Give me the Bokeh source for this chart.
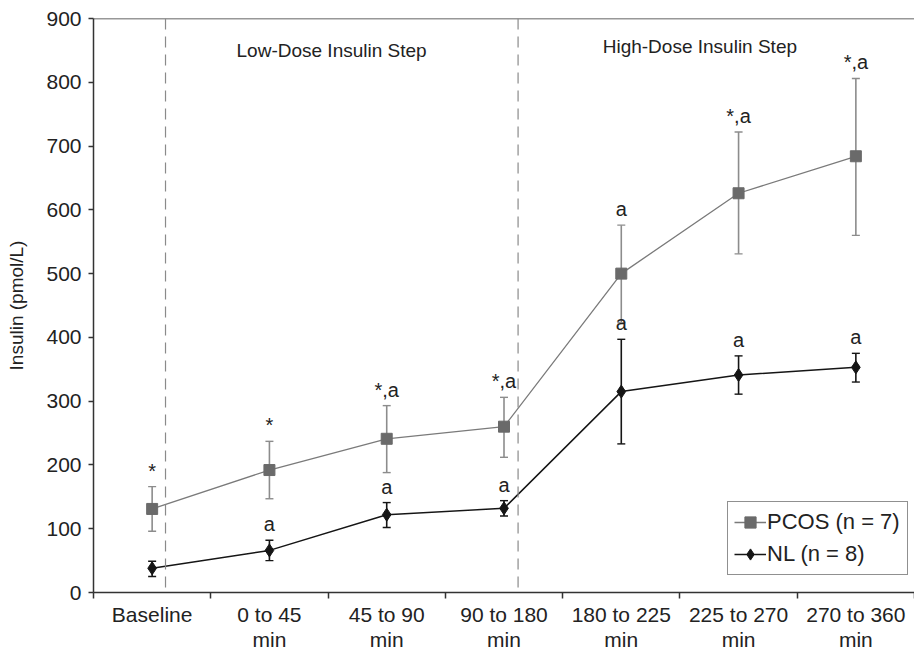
from bokeh.plotting import figure
from bokeh.models import (ColumnDataSource, Range1d, FixedTicker, Span, Label,
                          Whisker, TeeHead, Legend, LegendItem)
from bokeh.embed import file_html
from bokeh.resources import INLINE
from bokeh.core.properties import value

# ---------------- data ----------------
categories = ["Baseline", "0 to 45\nmin", "45 to 90\nmin", "90 to 180\nmin",
              "180 to 225\nmin", "225 to 270\nmin", "270 to 360\nmin"]
pcos_mean = [131, 192, 241, 260, 500, 626, 684]
pcos_low = [96, 147, 188, 212, 423, 531, 560]
pcos_high = [166, 237, 293, 306, 576, 722, 806]
pcos_sig = ["*", "*", "*,a", "*,a", "a", "*,a", "*,a"]

nl_mean = [38, 66, 122, 132, 315, 341, 353]
nl_low = [25, 50, 102, 120, 233, 311, 330]
nl_high = [49, 82, 141, 144, 397, 371, 375]
nl_sig = ["", "a", "a", "a", "a", "a", "a"]

y_ticks = [0, 100, 200, 300, 400, 500, 600, 700, 800, 900]

FONT = "Liberation Sans"
PCOS_LINE = "#7a7a7a"
PCOS_FILL = "#6a6a6a"
PCOS_ERR = "#8c8c8c"
NL_COL = "#151515"

xc = [i + 0.5 for i in range(len(categories))]
bounds = list(range(len(categories) + 1))

pcos = ColumnDataSource(dict(x=xc, y=pcos_mean, lo=pcos_low, hi=pcos_high, t=pcos_sig))
nl = ColumnDataSource(dict(x=xc, y=nl_mean, lo=nl_low, hi=nl_high, t=nl_sig))

p = figure(width=914, height=654, output_backend="svg", toolbar_location=None,
           x_range=Range1d(0, len(categories)), y_range=Range1d(0, 900),
           min_border_left=93, min_border_right=0, min_border_top=18, min_border_bottom=62)
p.outline_line_color = None
p.grid.visible = False
p.background_fill_color = "white"
p.border_fill_color = "white"

# axes
p.yaxis.ticker = FixedTicker(ticks=y_ticks)
p.yaxis.axis_label = "Insulin (pmol/L)"
p.yaxis.axis_label_text_font = FONT
p.yaxis.axis_label_text_font_style = "normal"
p.yaxis.axis_label_text_font_size = "19px"
p.yaxis.axis_label_text_color = "#222222"
p.yaxis.axis_label_standoff = 16
p.yaxis.major_tick_in = 0
p.yaxis.major_tick_out = 5
p.yaxis.major_label_standoff = 7

p.xaxis.ticker = FixedTicker(ticks=xc, minor_ticks=bounds)
p.xaxis.major_label_overrides = {x: c for x, c in zip(xc, categories)}
p.xaxis.major_tick_in = 0
p.xaxis.major_tick_out = 0
p.xaxis.minor_tick_in = 0
p.xaxis.minor_tick_out = 6
p.xaxis.major_label_standoff = 4
p.xaxis.major_label_text_line_height = 1.1

for ax in (p.xaxis[0], p.yaxis[0]):
    ax.axis_line_color = "#333333"
    ax.axis_line_width = 1.5
    ax.major_tick_line_color = "#333333"
    ax.major_tick_line_width = 1.5
    ax.minor_tick_line_color = "#333333"
    ax.minor_tick_line_width = 1.5
    ax.major_label_text_font = FONT
    ax.major_label_text_font_size = "21px"
    ax.major_label_text_color = "#222222"
p.yaxis.minor_tick_line_color = None

# top frame line
p.add_layout(Span(location=900, dimension="width", line_color="#333333", line_width=1.5))

# step separators
for loc in (0.614, 3.62):
    p.add_layout(Span(location=loc, dimension="height", line_color="#8a8a8a",
                      line_width=1.2, line_dash="11 7"))

p.add_layout(Label(x=2.03, y=850, text="Low-Dose Insulin Step", text_align="center",
                   text_baseline="middle", text_font=FONT, text_font_size="19px",
                   text_color="#222222"))
p.add_layout(Label(x=5.17, y=856, text="High-Dose Insulin Step", text_align="center",
                   text_baseline="middle", text_font=FONT, text_font_size="19px",
                   text_color="#222222"))

# error bars
p.add_layout(Whisker(source=pcos, base="x", upper="hi", lower="lo",
                     line_color=PCOS_ERR, line_width=1.6,
                     upper_head=TeeHead(size=8, line_color=PCOS_ERR, line_width=1.4),
                     lower_head=TeeHead(size=8, line_color=PCOS_ERR, line_width=1.4)))
p.add_layout(Whisker(source=nl, base="x", upper="hi", lower="lo",
                     line_color=NL_COL, line_width=1.6,
                     upper_head=TeeHead(size=8, line_color=NL_COL, line_width=1.4),
                     lower_head=TeeHead(size=8, line_color=NL_COL, line_width=1.4)))

# series
pl = p.line("x", "y", source=pcos, line_color=PCOS_LINE, line_width=1.3)
ps = p.scatter("x", "y", source=pcos, marker="square", size=11,
               fill_color=PCOS_FILL, line_color=PCOS_FILL)
nll = p.line("x", "y", source=nl, line_color=NL_COL, line_width=1.5)
nls = p.scatter("x", "y", source=nl, marker="diamond", size=13,
                fill_color=NL_COL, line_color=NL_COL)

# significance labels
p.text(x="x", y="hi", text="t", source=pcos, text_align="center",
       text_baseline="bottom", y_offset=-5, text_font=value(FONT),
       text_font_size="20px", text_color="#222222")
p.text(x="x", y="hi", text="t", source=nl, text_align="center",
       text_baseline="bottom", y_offset=-5, text_font=value(FONT),
       text_font_size="20px", text_color="#222222")

legend = Legend(items=[LegendItem(label="PCOS (n = 7)", renderers=[pl, ps]),
                       LegendItem(label="NL (n = 8)", renderers=[nll, nls])],
                location=(634, 17))
legend.label_text_font = FONT
legend.label_text_font_size = "22px"
legend.label_text_color = "#222222"
legend.border_line_color = "#222222"
legend.border_line_width = 1.2
legend.glyph_width = 32
legend.label_standoff = 1
legend.label_width = 134
legend.label_height = 28
legend.glyph_height = 28
legend.padding = 6
legend.spacing = 4
legend.margin = 0
legend.background_fill_alpha = 1
p.add_layout(legend)

open("out.html", "w").write(file_html(p, INLINE))
